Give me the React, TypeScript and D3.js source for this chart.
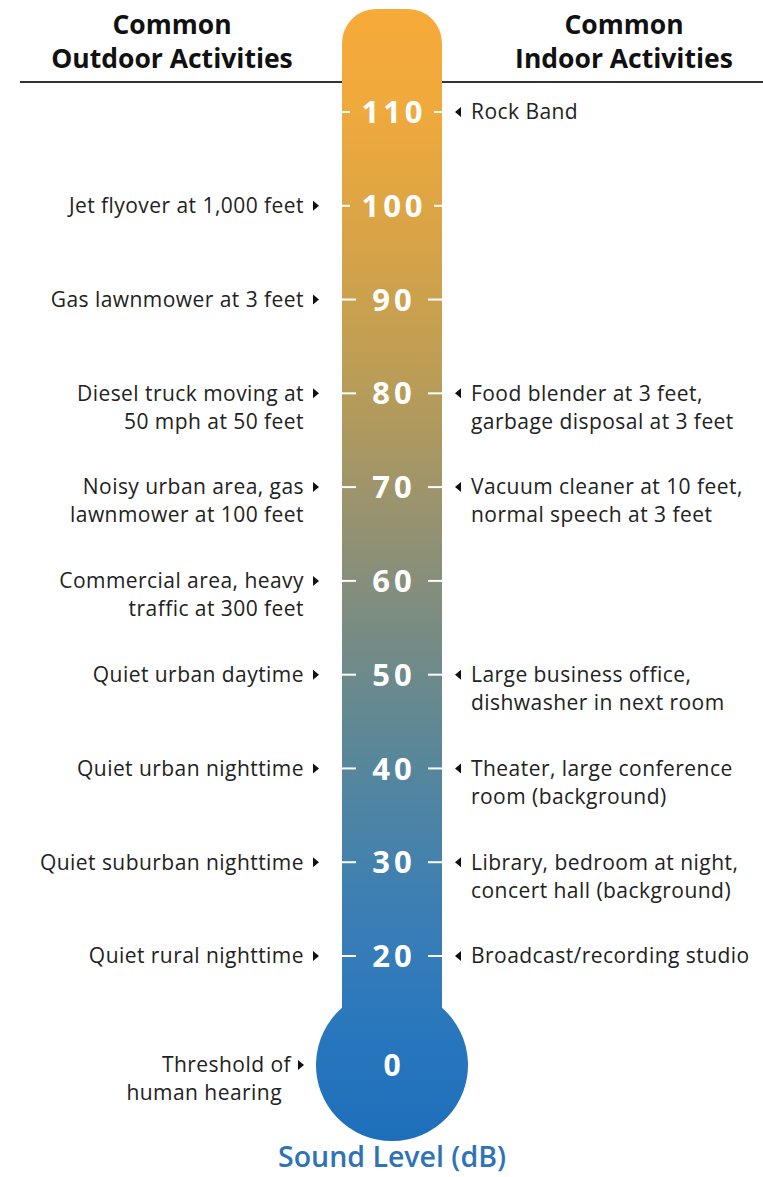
import React from "react";
import * as d3 from "d3";

const tickValues = [110, 100, 90, 80, 70, 60, 50, 40, 30, 20];
const bulbValue = 0;
const outdoorLevels = [100, 90, 80, 70, 60, 50, 40, 30, 20, 0];
const outdoorLabels = [
  ["Jet flyover at 1,000 feet"],
  ["Gas lawnmower at 3 feet"],
  ["Diesel truck moving at", "50 mph at 50 feet"],
  ["Noisy urban area, gas", "lawnmower at 100 feet"],
  ["Commercial area, heavy", "traffic at 300 feet"],
  ["Quiet urban daytime"],
  ["Quiet urban nighttime"],
  ["Quiet suburban nighttime"],
  ["Quiet rural nighttime"],
  ["Threshold of", "human hearing"],
];
const indoorLevels = [110, 80, 70, 50, 40, 30, 20];
const indoorLabels = [
  ["Rock Band"],
  ["Food blender at 3 feet,", "garbage disposal at 3 feet"],
  ["Vacuum cleaner at 10 feet,", "normal speech at 3 feet"],
  ["Large business office,", "dishwasher in next room"],
  ["Theater, large conference", "room (background)"],
  ["Library, bedroom at night,", "concert hall (background)"],
  ["Broadcast/recording studio"],
];
const headerLeft = ["Common", "Outdoor Activities"];
const headerRight = ["Common", "Indoor Activities"];
const axisTitle = "Sound Level (dB)";
const gradientColors = [
  "#f6aa38", "#efa93d", "#dca545", "#c8a04f", "#b09a5d", "#959271",
  "#7a8c82", "#5f8894", "#4983a8", "#387db7", "#2876bd", "#1e6fbb",
];

const W = 763;
const H = 1177;

export default function App() {
  const y = d3.scaleLinear().domain([20, 110]).range([956, 112]);
  const cx = 392;
  const tubeHalf = 50;
  const tubeTop = 9;
  const capR = 34;
  const bulbR = 76;
  const bulbCy = 1065;
  const x0 = cx - tubeHalf;
  const x1 = cx + tubeHalf;
  const yOf = (v: number) => (v === bulbValue ? bulbCy : y(v));

  const joinY = bulbCy - Math.sqrt(bulbR * bulbR - tubeHalf * tubeHalf);
  const path = d3.path();
  path.moveTo(x0, joinY);
  path.lineTo(x0, tubeTop + capR);
  path.arcTo(x0, tubeTop, x0 + capR, tubeTop, capR);
  path.lineTo(x1 - capR, tubeTop);
  path.arcTo(x1, tubeTop, x1, tubeTop + capR, capR);
  path.lineTo(x1, joinY);
  const a0 = Math.atan2(joinY - bulbCy, x1 - cx);
  const a1 = Math.atan2(joinY - bulbCy, x0 - cx);
  path.arc(cx, bulbCy, bulbR, a0, a1 + 2 * Math.PI, false);
  path.closePath();

  const gradY = d3.scaleLinear().domain([0, gradientColors.length - 1]).range([tubeTop, 1140]);

  const labelFont = "'Open Sans', 'Noto Sans', sans-serif";
  const rightEdge = x1 + 13;
  const labelSize = 21;
  const labelSpacing = 0.45;

  return (
    <svg width={W} height={H} style={{ display: "block", position: "absolute", left: 0, top: 0 }}>
      <defs>
        <linearGradient id="thermo" gradientUnits="userSpaceOnUse" x1={0} x2={0} y1={tubeTop} y2={1140}>
          {gradientColors.map((c, i) => (
            <stop key={i} offset={(gradY(i) - tubeTop) / (1140 - tubeTop)} stopColor={c} />
          ))}
        </linearGradient>
      </defs>
      <rect width={W} height={H} fill="#fff" />
      <line x1={20} x2={W} y1={82} y2={82} stroke="#333" strokeWidth={2} />
      <path d={path.toString()} fill="url(#thermo)" />
      {headerLeft.map((t, i) => (
        <text key={"hl" + i} x={172} y={34 + i * 34} textAnchor="middle" fontFamily={labelFont}
          fontWeight={700} fontSize={26.5} fill="#111">{t}</text>
      ))}
      {headerRight.map((t, i) => (
        <text key={"hr" + i} x={624} y={34 + i * 34} textAnchor="middle" fontFamily={labelFont}
          fontWeight={700} fontSize={26.5} fill="#111">{t}</text>
      ))}
      {tickValues.map((v) => {
        const ty = y(v);
        const dash = v >= 100 ? 8 : 14;
        return (
          <g key={"t" + v}>
            <line x1={x0} x2={x0 + dash} y1={ty} y2={ty} stroke="#fff" strokeWidth={2} />
            <line x1={x1 - dash} x2={x1} y1={ty} y2={ty} stroke="#fff" strokeWidth={2} />
            <text x={cx + 2} y={ty} dy="0.36em" textAnchor="middle" fontFamily={labelFont}
              fontWeight={700} fontSize={31} letterSpacing={4} fill="#fff">{v}</text>
          </g>
        );
      })}
      <text x={cx} y={bulbCy} dy="0.36em" textAnchor="middle" fontFamily={labelFont}
        fontWeight={700} fontSize={30} fill="#fff">{bulbValue}</text>
      {outdoorLevels.map((v, i) => {
        const ly = yOf(v);
        const isBulb = v === bulbValue;
        const ax = isBulb ? cx - bulbR - 12 : x0 - 23;
        const tx = isBulb ? ax - 13 : ax - 15;
        return (
          <g key={"o" + i}>
            <path d={`M${ax - 6},${ly - 5}L${ax},${ly}L${ax - 6},${ly + 5}Z`} fill="#111" />
            {outdoorLabels[i].map((t, j) => (
              <text key={j} x={tx - (isBulb && j === 1 ? 9 : 0)} y={ly + j * 28} dy="0.35em" textAnchor="end"
                fontFamily={labelFont} fontSize={labelSize} letterSpacing={labelSpacing} fill="#222">{t}</text>
            ))}
          </g>
        );
      })}
      {indoorLevels.map((v, i) => {
        const ly = yOf(v);
        const ax = rightEdge;
        return (
          <g key={"n" + i}>
            <path d={`M${ax + 6},${ly - 5}L${ax},${ly}L${ax + 6},${ly + 5}Z`} fill="#111" />
            {indoorLabels[i].map((t, j) => (
              <text key={j} x={ax + 16} y={ly + j * 28} dy="0.35em" textAnchor="start"
                fontFamily={labelFont} fontSize={labelSize} letterSpacing={labelSpacing} fill="#222">{t}</text>
            ))}
          </g>
        );
      })}
      <text x={cx} y={1167} textAnchor="middle" fontFamily={labelFont} fontWeight={600}
        fontSize={28.5} fill="#2d73b6">{axisTitle}</text>
    </svg>
  );
}
